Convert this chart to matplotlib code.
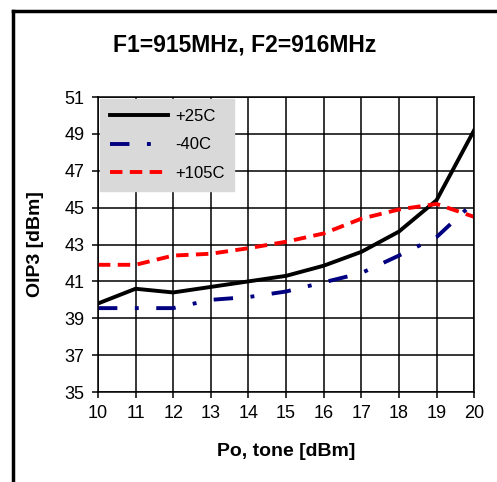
import matplotlib
matplotlib.use("Agg")
import matplotlib.pyplot as plt
from matplotlib.lines import Line2D

plt.rcParams['font.family'] = ['Liberation Sans', 'DejaVu Sans']

po = [10, 11, 12, 13, 14, 15, 16, 17, 18, 19, 20]
oip3_25c = [39.8, 40.6, 40.4, 40.7, 41.0, 41.3, 41.85, 42.6, 43.7, 45.4, 49.2]
oip3_m40c = [39.55, 39.55, 39.55, 40.0, 40.15, 40.45, 40.95, 41.45, 42.4, 43.4, 45.3]
oip3_105c = [41.9, 41.9, 42.4, 42.5, 42.8, 43.15, 43.6, 44.4, 44.9, 45.2, 44.5]
labels = ['+25C', '-40C', '+105C']
x_ticks = list(range(10, 21))
y_ticks = list(range(35, 52, 2))

fig = plt.figure(figsize=(4.97, 4.82), dpi=100)
ax = fig.add_axes([0.197, 0.1867, 0.757, 0.612])

ax.plot(po, oip3_25c, color='black', lw=2.8, label=labels[0])
ax.plot(po, oip3_m40c, color='#000080', lw=2.8, dashes=(5, 4.5, 1, 4.5), label=labels[1])
ax.plot(po, oip3_105c, color='#ff0000', lw=2.8, dashes=(3.2, 1.9), label=labels[2])

ax.set_xlim(10, 20)
ax.set_ylim(35, 51)
ax.set_xticks(x_ticks)
ax.set_yticks(y_ticks)
ax.grid(True, color='black', lw=1.1)
ax.set_axisbelow(True)
for s in ax.spines.values():
    s.set_color('black')
    s.set_linewidth(1.1)
ax.tick_params(axis='both', direction='out', length=4.5, width=1.1, labelsize=13, colors='black', pad=5)

ax.set_xlabel('Po, tone [dBm]', fontsize=14, fontweight='bold', labelpad=15)
ax.set_ylabel('OIP3 [dBm]', fontsize=14, fontweight='bold', labelpad=15)

leg = ax.legend(loc='upper left', frameon=True, fancybox=False, handlelength=3.5,
                fontsize=12, borderaxespad=0.12, labelspacing=0.8, handletextpad=0.4,
                borderpad=0.6)
leg.get_frame().set_facecolor('#d9d9d9')
leg.get_frame().set_edgecolor('#d9d9d9')
leg.get_frame().set_alpha(1)

fig.text(0.493, 0.907, 'F1=915MHz, F2=916MHz', ha='center', va='center', fontsize=16.5, fontweight='bold')

fig.add_artist(Line2D([0.027, 0.027], [0.0, 0.978], transform=fig.transFigure, color='black', lw=2.5))
fig.add_artist(Line2D([0.027, 1.0], [0.978, 0.978], transform=fig.transFigure, color='black', lw=2.5))

fig.savefig('out.png', dpi=100)
